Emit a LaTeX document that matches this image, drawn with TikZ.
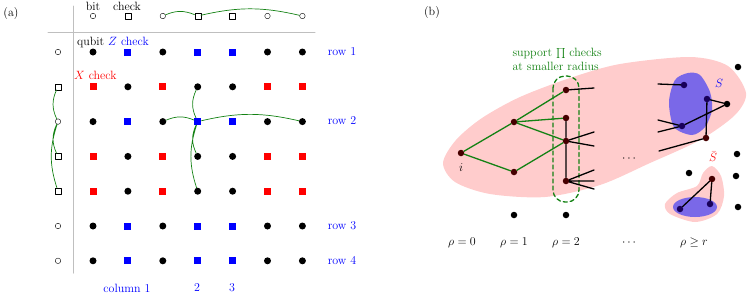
\documentclass[tikz,border=0pt]{standalone}
\usetikzlibrary{positioning}
\definecolor{tgreen}{RGB}{20,130,20}
\definecolor{blobred}{RGB}{255,204,204}
\definecolor{blobblue}{RGB}{122,104,232}
\definecolor{inred}{RGB}{70,0,0}
\definecolor{inblue}{RGB}{25,0,90}
\tikzset{
	typ0/.style={circle,draw,thin,inner sep=0pt,minimum size=5.5pt},
	typ1/.style={rectangle,draw,thin,inner sep=0pt,minimum size=6pt},
	cell00/.style={circle,fill=black,inner sep=0pt,minimum size=7pt},
	cell01/.style={rectangle,fill=blue,inner sep=0pt,minimum size=7pt},
	cell10/.style={rectangle,fill=red,inner sep=0pt,minimum size=7pt},
	cell11/.style={cell00},
	tanner/.style={tgreen,line width=0.7pt},
	vtx/.style={circle,fill=#1,inner sep=0pt,minimum size=6.5pt},
	vtx/.default=black,
	edge/.style={line width=1.3pt},
}
\begin{document}
\begin{tikzpicture}[x=1pt,y=-1pt,font=\large,line join=round,line cap=round]
	\useasboundingbox (0,0) rectangle (747,293);
	\def\types{0,1,0,1,1,0,0} % bit = 0, check = 1
	\def\dx{34.9} \def\dy{34.8}
	% (a) product of two Tanner graphs
	\node (la) at (11,14) {(a)};
	\draw[gray!50,line width=1pt] (73,6)--(73,273);
	\draw[gray!50,line width=1pt] (48,32)--(315,32);
	\foreach \t [count=\c] in \types {
		\node[typ\t] (t\c) at ({93+\dx*(\c-1)},16) {};
		\node[typ\t] (l\c) at (58,{52+\dy*(\c-1)}) {};
	}
	\foreach \a [count=\r] in \types
		\foreach \b [count=\c] in \types
			\node[cell\a\b] (g\r\c) at ({93+\dx*(\c-1)},{52+\dy*(\r-1)}) {};
	\draw[tanner] (t3) to[bend left=23] (t4) (t4) to[bend left=13] (t7);
	\draw[tanner] (l2) to[bend right=25] (l3) (l3) to[bend right=25] (l4) (l3) to[bend right=18] (l5);
	\draw[tanner] (g33) to[bend left=23] (g34) (g34) to[bend left=13] (g37);
	\draw[tanner] (g24) to[bend right=25] (g34) (g34) to[bend right=25] (g44) (g34) to[bend right=18] (g54);
	\node (lbit) at (93,6) {bit};
	\node (lcheck) at (127,6) {check};
	\node[anchor=west,inner sep=0pt] (lqubit) at (77,42) {qubit \textcolor{blue}{$Z$ check}};
	\node[anchor=west,inner sep=0pt,red] (lx) at (74,75) {$X$ check};
	\foreach \r/\y in {1/52,2/121,3/226,4/261}
		\node[blue] (row\r) at (342,\y) {row \r};
	\node[blue] (col1) at (127,288) {column 1};
	\node[blue] (col2) at (197,288) {2};
	\node[blue] (col3) at (232,288) {3};
	% (b) light cone from vertex i
	\node (lb) at (432,13) {(b)};
	\fill[blobred] plot[smooth cycle] coordinates {(443,163) (456,140) (482,118) (520,97) (570,78) (620,64) (690,57) (728,66) (746,93) (735,115) (700,140) (650,163) (600,185) (545,197) (490,194) (455,182)};
	\fill[blobblue] plot[smooth cycle] coordinates {(688,73) (700,75) (710,92) (712,110) (705,127) (692,135) (674,127) (669,102) (675,80)};
	\fill[blobred] plot[smooth cycle] coordinates {(712,166) (721,176) (724,196) (717,214) (695,222) (670,214) (665,204) (677,193) (697,186) (703,173)};
	\fill[blobblue] (695,207) ellipse [x radius=22, y radius=10];
	\draw[tgreen,line width=1.3pt,dash pattern=on 4pt off 3pt,rounded corners=12pt] (553,76) rectangle (579,202);
	\node[tgreen,align=left,anchor=west] (supp) at (509,59.5) {support $\prod$ checks\\at smaller radius};
	\node[vtx=inred] (i) at (461,153) {};
	\node[vtx=inred] (a1) at (514,122) {};
	\node[vtx=inred] (a2) at (514,172) {};
	\node[vtx=inred] (b1) at (566,90) {};
	\node[vtx=inred] (b2) at (566,118) {};
	\node[vtx=inred] (b3) at (566,141) {};
	\node[vtx=inred] (b4) at (566,181) {};
	\node[vtx] (c1) at (514,215) {};
	\node[vtx] (c2) at (566,215) {};
	\node[vtx=inblue] (s1) at (684,85) {};
	\node[vtx=inblue] (s2) at (707,99) {};
	\node[vtx=inblue] (s3) at (682,126) {};
	\node[vtx] (q1) at (727,104) {};
	\node[vtx=inred] (q2) at (706,138) {};
	\node[vtx=inred] (u1) at (712,179) {};
	\node[vtx=inblue] (u2) at (680,209) {};
	\node[vtx=inblue] (u3) at (710,204) {};
	\foreach \x/\y [count=\n] in {738/67,737/154,689/173,736/176,738/207}
		\node[vtx] (o\n) at (\x,\y) {};
	\foreach \x/\y [count=\n] in {594/88,594/132,594/146,594/170,594/181,594/189,658/84,658/120,658/132,659/151}
		\coordinate (e\n) at (\x,\y);
	\draw[edge,tgreen] (i)--(a1) (i)--(a2) (a1)--(b1) (a1)--(b2) (a1)--(b3) (a2)--(b3);
	\draw[edge] (b2)--(b3) (b3)--(b4) (b1)--(e1) (b3)--(e2) (b3)--(e3) (b4)--(e4) (b4)--(e5) (b4)--(e6);
	\draw[edge] (s1)--(e7) (s3)--(e8) (s3)--(e9) (q2)--(e10) (s2)--(q1) (q1)--(s3) (s2)--(q2);
	\draw[edge] (u1)--(u2) (u1)--(u3);
	\node (li) at (461,168) {$i$};
	\node[blue,inner sep=1pt] (lS) at (719,83) {$S$};
	\node[red,inner sep=1pt] (lSbar) at (713,157) {$\bar S$};
	\node (dots1) at (629,159) {$\cdots$};
	\foreach \k/\x in {0/462,1/514,2/566}
		\node (rho\k) at (\x,243) {$\rho=\k$};
	\node (rhodots) at (629,243) {$\cdots$};
	\node (rhor) at (694,243) {$\rho\geq r$};
\end{tikzpicture}
\end{document}
